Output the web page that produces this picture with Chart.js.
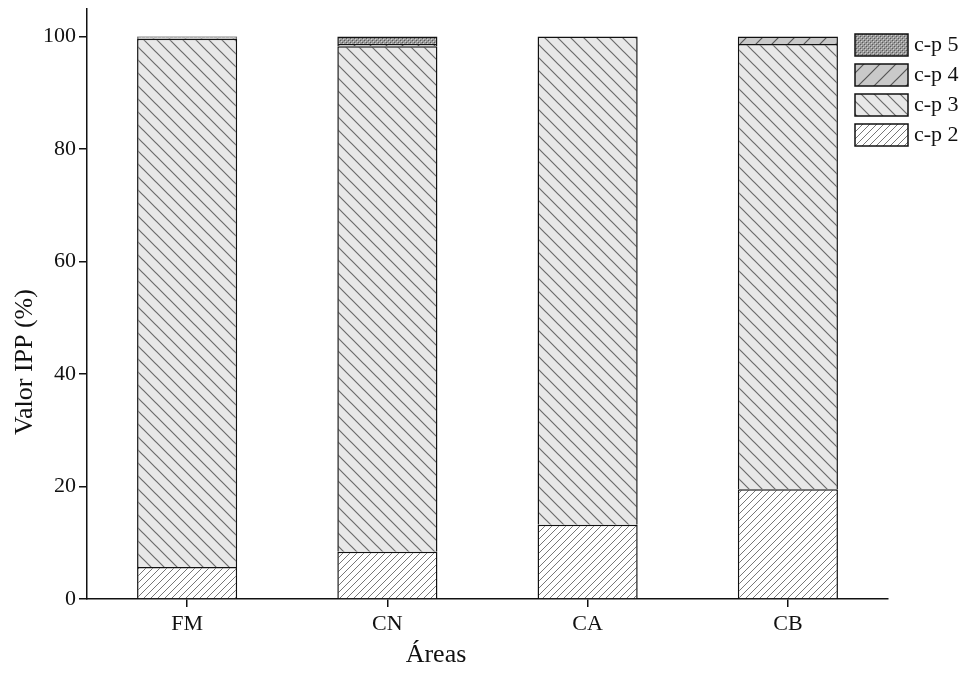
<!DOCTYPE html>
<html>
<head>
<meta charset="utf-8">
<script src="https://cdn.jsdelivr.net/npm/chart.js@4.4.1/dist/chart.umd.min.js"></script>
<style>
  body { margin: 0; background: #fff; }
  #wrap { width: 969px; height: 675px; }
</style>
</head>
<body>
<div id="wrap"><canvas id="ippChart"></canvas></div>
<script>
const areas = ["FM", "CN", "CA", "CB"];
const cp2 = [5.7, 8.4, 13.2, 19.5];
const cp3 = [93.9, 89.9, 86.8, 79.2];
const cp4 = [0.2, 0.4, 0, 1.3];
const cp5 = [0.2, 1.3, 0, 0];
const yTicks = [0, 20, 40, 60, 80, 100];

const serif = "'Liberation Serif', 'Times New Roman', serif";

// hatch fills
function hatch(bg, fg, size, dir, lw) {
  const c = document.createElement("canvas");
  c.width = size; c.height = size;
  const g = c.getContext("2d");
  g.fillStyle = bg;
  g.fillRect(0, 0, size, size);
  g.strokeStyle = fg;
  g.lineWidth = lw;
  g.beginPath();
  if (dir === "/") {
    g.moveTo(-1, size + 1); g.lineTo(size + 1, -1);
    g.moveTo(-1, 1); g.lineTo(1, -1);
    g.moveTo(size - 1, size + 1); g.lineTo(size + 1, size - 1);
  } else {
    g.moveTo(-1, -1); g.lineTo(size + 1, size + 1);
    g.moveTo(size - 1, -1); g.lineTo(size + 1, 1);
    g.moveTo(-1, size - 1); g.lineTo(1, size + 1);
  }
  g.stroke();
  return g.createPattern(c, "repeat");
}

function dots() {
  const c = document.createElement("canvas");
  c.width = 4; c.height = 4;
  const g = c.getContext("2d");
  g.fillStyle = "#9a9a9a";
  g.fillRect(0, 0, 4, 4);
  g.fillStyle = "#5a5a5a";
  g.fillRect(0, 0, 1, 1);
  g.fillRect(2, 2, 1, 1);
  g.fillStyle = "#d0d0d0";
  g.fillRect(1, 1, 1, 1);
  g.fillRect(3, 3, 1, 1);
  return g.createPattern(c, "repeat");
}

const ctx = document.getElementById("ippChart").getContext("2d");

const fills = {
  cp2: hatch("#ffffff", "#777777", 7, "/", 1),
  cp3: hatch("#e8e8e8", "#6a6a6a", 13, "\\", 1.2),
  cp4: hatch("#c9c9c9", "#555555", 16, "/", 1.2),
  cp5: dots(),
};

const extras = {
  id: "extras",
  afterDraw(chart) {
    const c = chart.ctx;
    c.save();
    // legend, top entry first
    const sets = chart.data.datasets.slice().reverse();
    sets.forEach((ds, i) => {
      const y = 34 + i * 30;
      c.fillStyle = ds.backgroundColor;
      c.fillRect(855, y, 53, 22);
      c.strokeStyle = "#111";
      c.lineWidth = 1.5;
      c.strokeRect(855, y, 53, 22);
      c.fillStyle = "#111";
      c.font = "22px " + serif;
      c.textBaseline = "middle";
      c.textAlign = "left";
      c.fillText(ds.label, 914, y + 11);
    });
    // axis titles
    c.font = "26px " + serif;
    c.fillStyle = "#111";
    c.textAlign = "center";
    c.textBaseline = "middle";
    c.fillText("Áreas", 436, 655);
    c.translate(25, 362);
    c.rotate(-Math.PI / 2);
    c.fillText("Valor IPP (%)", 0, 0);
    c.restore();
  },
};

const ippChart = new Chart(ctx, {
  type: "bar",
  data: {
    labels: areas,
    datasets: [
      { label: "c-p 2", data: cp2, backgroundColor: fills.cp2 },
      { label: "c-p 3", data: cp3, backgroundColor: fills.cp3 },
      { label: "c-p 4", data: cp4, backgroundColor: fills.cp4 },
      { label: "c-p 5", data: cp5, backgroundColor: fills.cp5 },
    ],
  },
  options: {
    responsive: true,
    maintainAspectRatio: false,
    animation: false,
    layout: { padding: { top: 8, right: 81, bottom: 0, left: 0 } },
    datasets: {
      bar: {
        borderColor: "#111",
        borderWidth: 1.5,
        categoryPercentage: 1,
        barPercentage: 0.5,
      },
    },
    scales: {
      x: {
        stacked: true,
        afterFit(scale) { scale.height = 76; },
        border: { color: "#111", width: 1.5 },
        grid: { offset: false, drawOnChartArea: false, color: "#111", lineWidth: 1.5, tickLength: 8 },
        ticks: { color: "#111", font: { family: serif, size: 22 }, padding: 4 },
      },
      y: {
        stacked: true,
        min: 0,
        max: 105,
        afterFit(scale) { scale.width = 87; },
        afterBuildTicks(scale) {
          scale.ticks = yTicks.map(v => ({ value: v }));
        },
        border: { color: "#111", width: 1.5 },
        grid: { drawOnChartArea: false, color: "#111", lineWidth: 1.5, tickLength: 8 },
        ticks: { color: "#111", font: { family: serif, size: 22, lineHeight: 0.5 }, padding: 3 },
      },
    },
    plugins: {
      legend: { display: false },
      tooltip: { enabled: false },
    },
  },
  plugins: [extras],
});
</script>
</body>
</html>
